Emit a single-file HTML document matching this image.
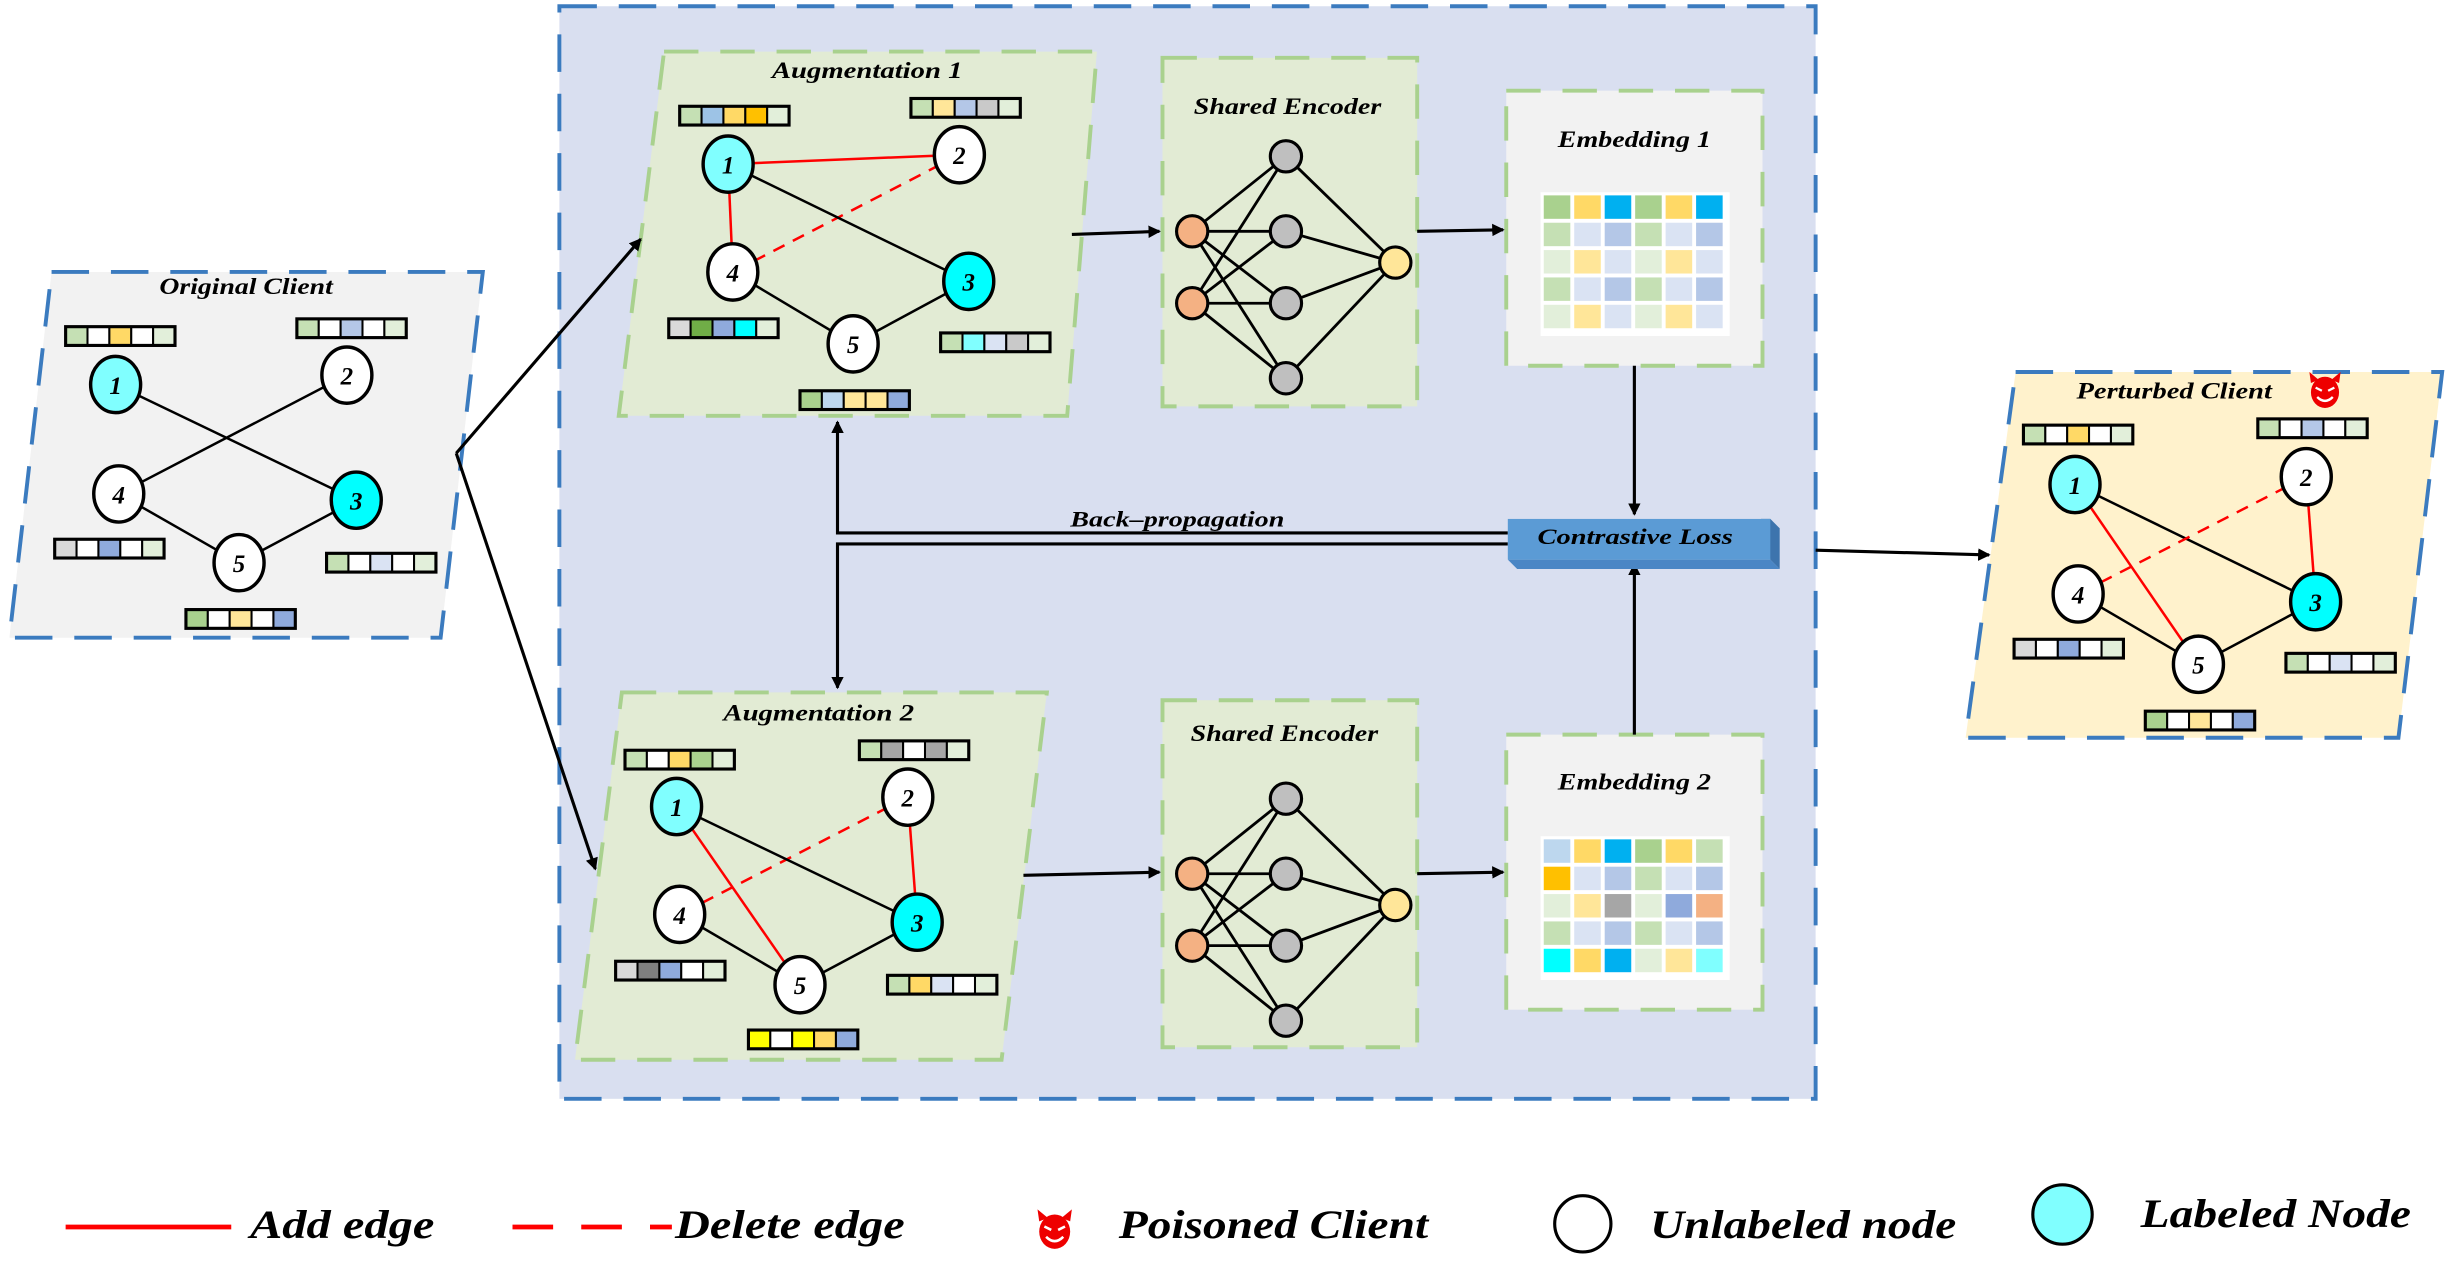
<!DOCTYPE html>
<html><head><meta charset="utf-8"><style>
html,body{margin:0;padding:0;background:#fff;}
svg{display:block;}
text{font-family:"Liberation Serif",serif;font-weight:bold;font-style:italic;fill:#000;}
</style></head><body>
<svg id="s" width="2450" height="1277" viewBox="0 0 1568 817" preserveAspectRatio="none" xmlns="http://www.w3.org/2000/svg">
<defs>
<marker id="ah" markerWidth="8" markerHeight="8" refX="7" refY="4" orient="auto" markerUnits="userSpaceOnUse"><path d="M0,0 L8,4 L0,8 z" fill="#000"/></marker>
</defs>
<rect x="0" y="0" width="1568" height="817" fill="#fff"/>
<rect x="358" y="4" width="804" height="699" fill="#d9dff0" stroke="#3b7bbf" stroke-width="2.5" stroke-dasharray="24,14"/>
<polygon points="33,174 309,174 282,408 6,408" fill="#f2f2f2" stroke="#3b7bbf" stroke-width="2.5" stroke-dasharray="24,14"/>
<polygon points="1290,238 1563,238 1535,472 1258,472" fill="#fff2cc" stroke="#3b7bbf" stroke-width="2.5" stroke-dasharray="24,14"/>
<polygon points="425,33 702,33 683,266 396,266" fill="#e2ebd4" stroke="#a9d18e" stroke-width="2.5" stroke-dasharray="22,14"/>
<polygon points="398,443 670,443 641,678 368,678" fill="#e2ebd4" stroke="#a9d18e" stroke-width="2.5" stroke-dasharray="22,14"/>
<rect x="744" y="37" width="163" height="223" fill="#e2ebd4" stroke="#a9d18e" stroke-width="2.5" stroke-dasharray="22,14"/>
<rect x="744" y="448" width="163" height="222" fill="#e2ebd4" stroke="#a9d18e" stroke-width="2.5" stroke-dasharray="22,14"/>
<rect x="964" y="58" width="164" height="176" fill="#f2f2f2" stroke="#a9d18e" stroke-width="2.5" stroke-dasharray="22,14"/>
<rect x="964" y="470" width="164" height="176" fill="#f2f2f2" stroke="#a9d18e" stroke-width="2.5" stroke-dasharray="22,14"/>
<g id="dyn"></g>
<g stroke="#000" stroke-width="2" fill="none">
<line x1="292" y1="290" x2="410" y2="153" marker-end="url(#ah)"/>
<line x1="292" y1="290" x2="381" y2="556" marker-end="url(#ah)"/>
<line x1="686" y1="150" x2="742" y2="148" marker-end="url(#ah)"/>
<line x1="907" y1="148" x2="962" y2="147" marker-end="url(#ah)"/>
<line x1="655" y1="560" x2="742" y2="558" marker-end="url(#ah)"/>
<line x1="907" y1="559" x2="962" y2="558" marker-end="url(#ah)"/>
<line x1="1046" y1="234" x2="1046" y2="329" marker-end="url(#ah)"/>
<line x1="1046" y1="470" x2="1046" y2="361" marker-end="url(#ah)"/>
<line x1="1162" y1="352" x2="1273" y2="355" marker-end="url(#ah)"/>
<polyline points="965,341 536,341 536,270" marker-end="url(#ah)"/>
<polyline points="965,348 536,348 536,440" marker-end="url(#ah)"/>
</g>
<polygon points="965,358 1133,358 1139,364 971,364" fill="#4a86c5"/>
<polygon points="1127,332 1133,332 1139,338 1139,364 1133,358" fill="#3d74ad"/>
<rect x="965" y="332" width="168" height="26" fill="#5b9bd5"/>
<text x="984" y="348" font-size="14" textLength="125" lengthAdjust="spacingAndGlyphs">Contrastive Loss</text>
<text x="685" y="337" font-size="14" textLength="137" lengthAdjust="spacingAndGlyphs">Back–propagation</text>
<text x="102" y="188" font-size="15" textLength="111" lengthAdjust="spacingAndGlyphs">Original Client</text>
<text x="494" y="50" font-size="15" textLength="122" lengthAdjust="spacingAndGlyphs">Augmentation 1</text>
<text x="463" y="461" font-size="15" textLength="122" lengthAdjust="spacingAndGlyphs">Augmentation 2</text>
<text x="764" y="73" font-size="15" textLength="120" lengthAdjust="spacingAndGlyphs">Shared Encoder</text>
<text x="762" y="474" font-size="15" textLength="120" lengthAdjust="spacingAndGlyphs">Shared Encoder</text>
<text x="997" y="94" font-size="15" textLength="98" lengthAdjust="spacingAndGlyphs">Embedding 1</text>
<text x="997" y="505" font-size="15" textLength="98" lengthAdjust="spacingAndGlyphs">Embedding 2</text>
<text x="1329" y="255" font-size="15" textLength="125" lengthAdjust="spacingAndGlyphs">Perturbed Client</text>
<g id="nodes"></g>
<line x1="42" y1="785" x2="148" y2="785" stroke="#f00" stroke-width="3"/>
<text x="160" y="792" font-size="26" textLength="118" lengthAdjust="spacingAndGlyphs">Add edge</text>
<line x1="328" y1="785" x2="430" y2="785" stroke="#f00" stroke-width="3" stroke-dasharray="26,18"/>
<text x="432" y="792" font-size="26" textLength="147" lengthAdjust="spacingAndGlyphs">Delete edge</text>
<text x="716" y="792" font-size="26" textLength="198" lengthAdjust="spacingAndGlyphs">Poisoned Client</text>
<circle cx="1013" cy="783" r="18" fill="#fff" stroke="#000" stroke-width="2"/>
<text x="1056" y="792" font-size="26" textLength="196" lengthAdjust="spacingAndGlyphs">Unlabeled node</text>
<circle cx="1320" cy="777" r="19" fill="#80ffff" stroke="#000" stroke-width="2"/>
<text x="1370" y="785" font-size="26" textLength="173" lengthAdjust="spacingAndGlyphs">Labeled Node</text>
<g font-size="16" text-anchor="middle">
<text x="74" y="252">1</text><text x="222" y="246">2</text><text x="228" y="326">3</text><text x="76" y="322">4</text><text x="153" y="366">5</text>
<text x="466" y="111">1</text><text x="614" y="105">2</text><text x="620" y="186">3</text><text x="469" y="180">4</text><text x="546" y="226">5</text>
<text x="433" y="522">1</text><text x="581" y="516">2</text><text x="587" y="596">3</text><text x="435" y="591">4</text><text x="512" y="636">5</text>
<text x="1328" y="316">1</text><text x="1476" y="311">2</text><text x="1482" y="391">3</text><text x="1330" y="386">4</text><text x="1407" y="431">5</text>
</g>
</svg>
<script>
var NS="http://www.w3.org/2000/svg";
var dyn=document.getElementById('dyn');
function el(t,a,p){var e=document.createElementNS(NS,t);for(var k in a)e.setAttribute(k,a[k]);(p||dyn).appendChild(e);return e;}
function vec(x,y,c){for(var i=0;i<5;i++)el('rect',{x:x+i*14,y:y,width:14,height:12,fill:'#'+c[i],stroke:'#000','stroke-width':1.3});el('rect',{x:x,y:y,width:70,height:12,fill:'none',stroke:'#000','stroke-width':2});}
function devil(cx,cy,s){var g=el('g',{transform:'translate('+cx+','+cy+') scale('+s+')'});
el('path',{d:'M-9,-6 L-10,-13 L-4,-8 Z M9,-6 L10,-13 L4,-8 Z',fill:'#e00'},g);
el('ellipse',{cx:0,cy:0,rx:9,ry:10,fill:'#e00'},g);
el('path',{d:'M-6,-3 L-2,-1 M6,-3 L2,-1',stroke:'#fff','stroke-width':1.5},g);
el('path',{d:'M-5,3 Q0,8 5,3',stroke:'#fff','stroke-width':1.5,fill:'none'},g);}
function graph(N,E){
 E.forEach(function(e){var a=N[e[0]],b=N[e[1]];var at={x1:a[0],y1:a[1],x2:b[0],y2:b[1],stroke:e[2]?'#f00':'#000','stroke-width':1.6};if(e[2]==2)at['stroke-dasharray']='8,6';el('line',at);});
 for(var k=1;k<=5;k++){var c=k==1?'#80ffff':(k==3?'#00ffff':'#fff');el('ellipse',{cx:N[k][0],cy:N[k][1],rx:16,ry:18,fill:c,stroke:'#000','stroke-width':2.2});}
}
var V1=['c5e0b4','ffffff','ffd966','ffffff','e2efda'],V2=['c5e0b4','ffffff','b4c7e7','ffffff','e2efda'],V4=['d9d9d9','ffffff','8faadc','ffffff','e2efda'],V3=['c5e0b4','ffffff','dae3f3','ffffff','e2efda'],V5=['a9d18e','ffffff','ffe699','ffffff','8faadc'];
graph({1:[74,246],2:[222,240],3:[228,320],4:[76,316],5:[153,360]},[[1,3],[2,4],[4,5],[5,3]]);
vec(42,209,V1);vec(190,204,V2);vec(35,345,V4);vec(209,354,V3);vec(119,390,V5);
graph({1:[466,105],2:[614,99],3:[620,180],4:[469,174],5:[546,220]},[[1,2,1],[1,4,1],[2,4,2],[1,3],[4,5],[5,3]]);
vec(435,68,['c5e0b4','9dc3e6','ffd966','ffc000','e2efda']);vec(583,63,['c5e0b4','ffe699','b4c7e7','c9c9c9','e2efda']);
vec(428,204,['d9d9d9','70ad47','8faadc','00ffff','e2efda']);vec(602,213,['c5e0b4','80ffff','dae3f3','c9c9c9','e2efda']);vec(512,250,['a9d18e','bdd7ee','ffe699','ffe699','8faadc']);
graph({1:[433,516],2:[581,510],3:[587,590],4:[435,585],5:[512,630]},[[1,5,1],[2,3,1],[2,4,2],[1,3],[4,5],[5,3]]);
vec(400,480,['c5e0b4','ffffff','ffd966','a9d18e','e2efda']);vec(550,474,['c5e0b4','a6a6a6','ffffff','a6a6a6','e2efda']);
vec(394,615,['d9d9d9','7f7f7f','8faadc','ffffff','e2efda']);vec(568,624,['c5e0b4','ffd966','dae3f3','ffffff','e2efda']);vec(479,659,['ffff00','ffffff','ffff00','ffd966','8faadc']);
graph({1:[1328,310],2:[1476,305],3:[1482,385],4:[1330,380],5:[1407,425]},[[1,3],[1,5,1],[2,3,1],[2,4,2],[4,5],[5,3]]);
vec(1295,272,V1);vec(1445,268,V2);vec(1289,409,V4);vec(1463,418,V3);vec(1373,455,V5);
devil(1488,251,1);devil(675,788,1.1);
function enc(y0){var I=[[763,y0+111],[763,y0+157]],H=[[823,y0+63],[823,y0+111],[823,y0+157],[823,y0+205]],O=[893,y0+131];
 I.forEach(function(a){H.forEach(function(h){el('line',{x1:a[0],y1:a[1],x2:h[0],y2:h[1],stroke:'#000','stroke-width':1.8});});});
 H.forEach(function(h){el('line',{x1:h[0],y1:h[1],x2:O[0],y2:O[1],stroke:'#000','stroke-width':1.8});});
 I.forEach(function(a){el('circle',{cx:a[0],cy:a[1],r:10,fill:'#f4b183',stroke:'#000','stroke-width':2});});
 H.forEach(function(a){el('circle',{cx:a[0],cy:a[1],r:10,fill:'#bfbfbf',stroke:'#000','stroke-width':2});});
 el('circle',{cx:O[0],cy:O[1],r:10,fill:'#ffe699',stroke:'#000','stroke-width':2});}
enc(37);enc(448);
function grid(x,y,G){el('rect',{x:x-2,y:y-2,width:121,height:92,fill:'#fff'});for(var r=0;r<5;r++)for(var c=0;c<6;c++)el('rect',{x:x+c*19.5,y:y+r*17.5,width:17,height:15,fill:'#'+G[r][c]});}
var A=['a9d18e','ffd966','00b0f0','a9d18e','ffd966','00b0f0'],B=['c5e0b4','dae3f3','b4c7e7','c5e0b4','dae3f3','b4c7e7'],C=['e2efda','ffe699','dae3f3','e2efda','ffe699','dae3f3'];
grid(988,125,[A,B,C,B,C]);
grid(988,537,[['bdd7ee','ffd966','00b0f0','a9d18e','ffd966','c5e0b4'],['ffc000','dae3f3','b4c7e7','c5e0b4','dae3f3','b4c7e7'],['e2efda','ffe699','a6a6a6','e2efda','8faadc','f4b183'],B,['00ffff','ffd966','00b0f0','e2efda','ffe699','80ffff']]);
</script>
</body></html>
